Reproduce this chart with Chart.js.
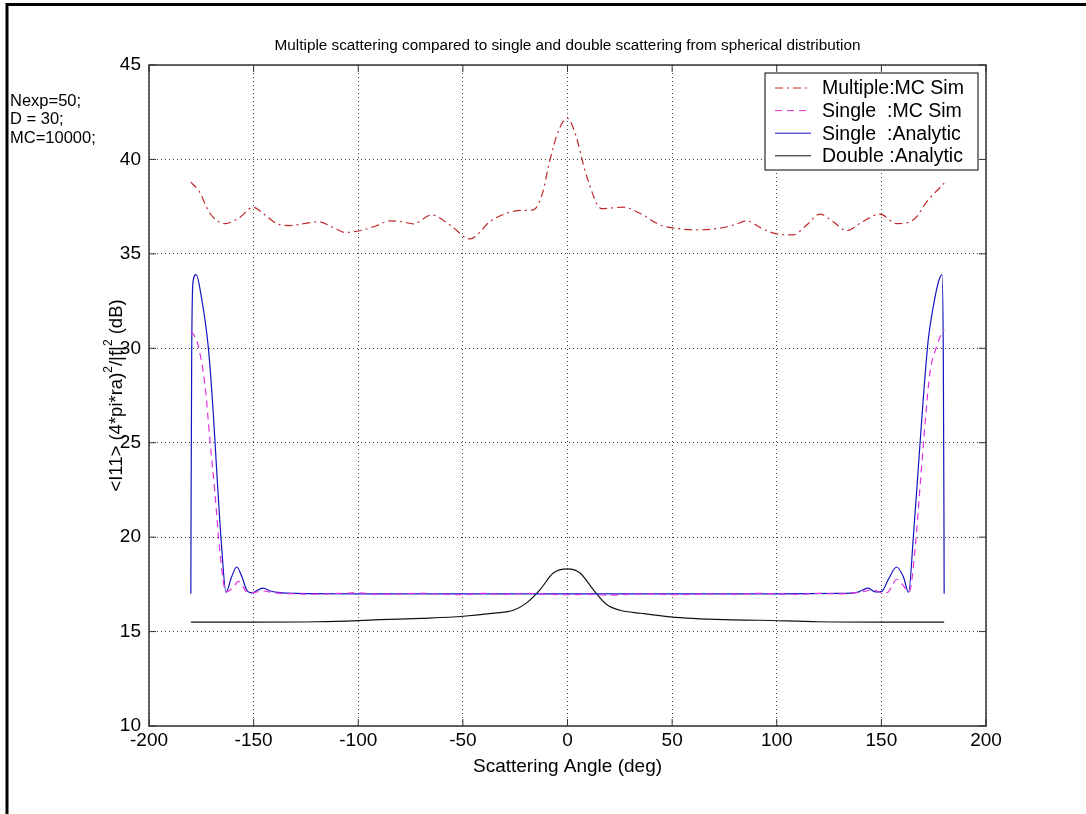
<!DOCTYPE html>
<html>
<head>
<meta charset="utf-8">
<script src="https://cdn.jsdelivr.net/npm/chart.js@4.4.1/dist/chart.umd.min.js"></script>
<style>
  body { margin: 0; background: #fff; }
  canvas { display: block; }
</style>
</head>
<body>
<canvas id="scatterChart" width="1086" height="814"></canvas>
<script>
// values (angle in deg, level in dB)
const multAngle = [-180,-176,-170.9,-163.7,-157,-150.2,-145,-139,-132.6,-126,-119.1,-112,-106.3,-97.6,-91,-84.8,-79,-73.7,-64.9,-56.2,-46.6,-37,-29.1,-22,-16.3,-12,-8.4,-4,0,3.6,9.2,16.3,26.7,34.6,44.2,52,60.1,72.9,80,85.6,92,98.4,107.9,114,120.7,127,133.4,141,149.3,157.3,165.3,172,180];
const multDb = [38.8,38.3,37.15,36.6,36.9,37.47,37.1,36.6,36.5,36.6,36.7,36.4,36.13,36.27,36.5,36.75,36.7,36.59,37.06,36.53,35.79,36.71,37.15,37.3,37.33,38.2,39.97,41.6,42.18,41.4,39.1,37.4,37.47,37.15,36.53,36.35,36.27,36.36,36.55,36.75,36.4,36.1,36.0,36.5,37.1,36.7,36.23,36.7,37.1,36.6,36.8,37.8,38.74];

const singleMcAngle = [-180,-178,-176.4,-173.2,-170.9,-168.5,-166.1,-163.2,-160,-157.3,-155,-153.3,-150.9,-146,-140,-130,-120,-110,-100,-90,-80,-70,-60,-50,-40,-30,-20,-10,0,10,20,30,40,50,60,70,80,90,100,110,120,130,140,146,150.9,153.3,155,157.3,160,163.3,166.2,168.5,170.9,173.2,176.4,178,180];
const singleMcDb = [30.9,30.6,30.1,28.0,25.16,22.34,19.2,17.1,17.3,17.66,17.35,17.1,17.05,17.15,17.05,17.0,16.98,17.02,17.05,16.97,17.0,17.03,16.98,16.95,17.02,16.97,17.03,16.98,16.95,16.97,16.93,16.98,17.0,16.95,16.97,17.0,16.98,17.02,17.0,16.97,17.02,17.0,17.1,17.2,17.05,17.1,17.4,17.77,17.5,17.1,19.5,22.7,26.04,28.7,30.1,30.6,30.98];

const singleAnAngle = [-180,-179.9,-179.6,-179,-177.5,-174.8,-171.7,-169.3,-167.4,-165.3,-163.2,-160.5,-158.1,-155.6,-153.3,-150.9,-148,-145.4,-142,-138.6,-130,-100,-50,0,50,100,130,138.6,141,143.7,147,150.2,153.5,157.3,160.5,163,165.3,167.7,170.1,172.4,174.8,177.5,179,179.6,179.9,180];
const singleAnDb = [17,21.3,29.6,33.5,33.9,32.6,30.1,26.6,23.05,19.5,17.08,17.9,18.42,17.9,17.2,17.05,17.2,17.3,17.15,17.08,17.02,17,17,17,17,17,17.02,17.08,17.2,17.3,17.1,17.13,17.8,18.42,17.9,17.08,20.04,23.75,27.45,30.45,32.21,33.6,33.9,29.6,21.3,17];

const doubleAngle = [-180,-150,-120,-100,-89.6,-70,-49.8,-35,-25.9,-19.5,-13.1,-6.8,0,6,12.3,18.7,25.1,35,49,74.5,92,120,150,180];
const doubleDb = [15.5,15.5,15.52,15.58,15.63,15.7,15.81,15.98,16.13,16.52,17.22,18.1,18.32,18.1,17.22,16.43,16.13,15.97,15.78,15.63,15.6,15.52,15.5,15.5];

const seriesNames = ["Multiple:MC Sim", "Single  :MC Sim", "Single  :Analytic", "Double :Analytic"];
const xTicks = [-200, -150, -100, -50, 0, 50, 100, 150, 200];
const yTicks = [10, 15, 20, 25, 30, 35, 40, 45];
const infoLines = ["Nexp=50;", "D = 30;", "MC=10000;"];
// y label pieces: [text, superscript?]
const yLabelParts = [["<I11> (4*pi*ra)", false], ["2", true], ["/|f|", false], ["2", true], [" (dB)", false]];

function toPoints(xs, ys) {
    return xs.map((x, i) => ({ x: x, y: ys[i] }));
}

const FONT = "Arial, 'Liberation Sans', sans-serif";

// frame, inner tick marks, texts and legend, MATLAB style
const matlabDecor = {
    id: "matlabDecor",
    afterDraw(chart) {
        const ctx = chart.ctx;
        const a = chart.chartArea;
        const xs = chart.scales.x, ys = chart.scales.y;
        ctx.save();

        // axes box
        ctx.strokeStyle = "#333";
        ctx.lineWidth = 1.5;
        ctx.setLineDash([]);
        ctx.strokeRect(a.left, a.top, a.right - a.left, a.bottom - a.top);

        // inward ticks on all four sides
        ctx.lineWidth = 1;
        ctx.beginPath();
        xTicks.forEach(v => {
            let px = xs.getPixelForValue(v);
            ctx.moveTo(px, a.bottom); ctx.lineTo(px, a.bottom - 7);
            ctx.moveTo(px, a.top); ctx.lineTo(px, a.top + 7);
        });
        yTicks.forEach(v => {
            let py = ys.getPixelForValue(v);
            ctx.moveTo(a.left, py); ctx.lineTo(a.left + 7, py);
            ctx.moveTo(a.right, py); ctx.lineTo(a.right - 7, py);
        });
        ctx.stroke();

        ctx.fillStyle = "#000";
        // title
        ctx.font = "15.3px " + FONT;
        ctx.textAlign = "center";
        ctx.textBaseline = "middle";
        ctx.fillText("Multiple scattering compared to single and double scattering from spherical distribution", (a.left + a.right) / 2, 46);

        // x axis title
        ctx.font = "19px " + FONT;
        ctx.fillText("Scattering Angle (deg)", (a.left + a.right) / 2, 767);

        // y axis title with superscripts
        ctx.save();
        ctx.translate(117, (a.top + a.bottom) / 2);
        ctx.rotate(-Math.PI / 2);
        ctx.textAlign = "left";
        const normalFont = "18.5px " + FONT, supFont = "12px " + FONT;
        let total = 0;
        yLabelParts.forEach(p => { ctx.font = p[1] ? supFont : normalFont; total += ctx.measureText(p[0]).width; });
        let cx = -total / 2;
        yLabelParts.forEach(p => {
            ctx.font = p[1] ? supFont : normalFont;
            ctx.fillText(p[0], cx, p[1] ? -8 : 0);
            cx += ctx.measureText(p[0]).width;
        });
        ctx.restore();

        // parameter note
        ctx.font = "16.5px " + FONT;
        ctx.textAlign = "left";
        infoLines.forEach((t, i) => ctx.fillText(t, 10, 101 + i * 18.5));

        // legend box
        const lx = 765, ly = 73, lw = 213, lh = 97;
        ctx.fillStyle = "#fff";
        ctx.fillRect(lx, ly, lw, lh);
        ctx.strokeStyle = "#000";
        ctx.lineWidth = 1;
        ctx.strokeRect(lx, ly, lw, lh);
        ctx.font = "19.5px " + FONT;
        chart.data.datasets.forEach((ds, i) => {
            let cy = 88 + i * 22.6;
            ctx.strokeStyle = ds.borderColor;
            ctx.setLineDash(ds.borderDash || []);
            ctx.beginPath();
            ctx.moveTo(775, cy); ctx.lineTo(811, cy);
            ctx.stroke();
            ctx.setLineDash([]);
            ctx.fillStyle = "#000";
            ctx.fillText(ds.label, 822, cy + 1);
        });

        // figure border (only top and left fall inside the picture)
        ctx.strokeStyle = "#000";
        ctx.lineWidth = 3;
        ctx.strokeRect(7, 4.5, 1200, 1200);
        ctx.restore();
    }
};

const ctx = document.getElementById("scatterChart").getContext("2d");

new Chart(ctx, {
    type: "scatter",
    data: {
        datasets: [
            {
                label: seriesNames[0],
                data: toPoints(multAngle, multDb),
                borderColor: "rgb(190, 40, 40)",
                borderDash: [8, 4, 2, 4]
            },
            {
                label: seriesNames[1],
                data: toPoints(singleMcAngle, singleMcDb),
                borderColor: "rgb(225, 50, 225)",
                borderDash: [7, 5]
            },
            {
                label: seriesNames[2],
                data: toPoints(singleAnAngle, singleAnDb),
                borderColor: "rgb(20, 20, 190)"
            },
            {
                label: seriesNames[3],
                data: toPoints(doubleAngle, doubleDb),
                borderColor: "#111"
            }
        ].map(ds => Object.assign(ds, {
            showLine: true,
            pointRadius: 0,
            borderWidth: 1.2,
            cubicInterpolationMode: "monotone",
            fill: false
        }))
    },
    options: {
        responsive: false,
        animation: false,
        layout: { padding: { left: 0, top: 65, right: 100, bottom: 0 } },
        plugins: {
            legend: { display: false },
            title: { display: false },
            tooltip: { enabled: false }
        },
        scales: {
            x: {
                type: "linear",
                min: -200,
                max: 200,
                afterBuildTicks: s => { s.ticks = xTicks.map(v => ({ value: v })); },
                afterFit: s => { s.height = 88; },
                grid: { color: "#444", lineWidth: 1, drawTicks: false },
                border: { display: false, dash: [1, 3] },
                ticks: { color: "#000", font: { size: 19, family: FONT }, padding: 3, maxRotation: 0 }
            },
            y: {
                type: "linear",
                min: 10,
                max: 45,
                afterBuildTicks: s => { s.ticks = yTicks.map(v => ({ value: v })); },
                afterFit: s => { s.width = 149; },
                grid: { color: "#444", lineWidth: 1, drawTicks: false },
                border: { display: false, dash: [1, 3] },
                ticks: { color: "#000", font: { size: 19, family: FONT }, padding: 8 }
            }
        }
    },
    plugins: [matlabDecor]
});
</script>
</body>
</html>
